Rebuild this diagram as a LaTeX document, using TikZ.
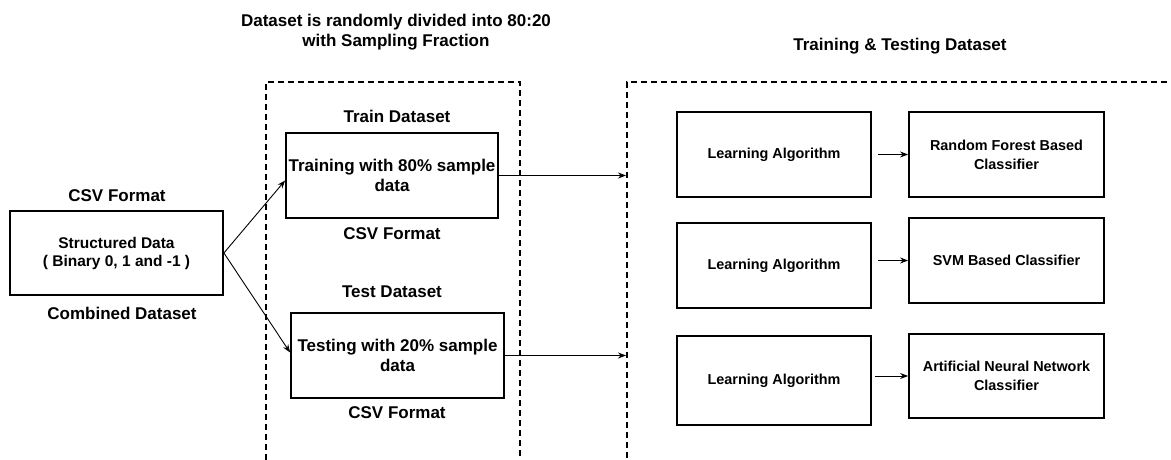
\documentclass[tikz,border=0pt]{standalone}
\usepackage{fontspec}
\setmainfont{Liberation Sans}
\usepackage{tikz}
\usetikzlibrary{arrows.meta,positioning,calc}

\tikzset{
  txt/.style={font=\fontsize{17}{20}\selectfont\bfseries},
  smalltxt/.style={font=\fontsize{14.4}{19}\selectfont\bfseries},
  box/.style={txt,draw,line width=1.8pt,minimum width=#1,minimum height=85pt,
              inner sep=2pt,align=center},
  box/.default=194pt,
  frame/.style={draw,dashed,dash pattern=on 6pt off 4pt,line width=1.8pt,
                anchor=north west,inner sep=0pt},
  lbl/.style={txt,align=center,inner sep=0pt},
  arr/.style={->,line width=0.9pt}
}

\begin{document}
\begin{tikzpicture}[x=1pt,y=-1pt,>={Stealth[length=8pt,width=6pt]}]
  \useasboundingbox (0,0) rectangle (1171,460);

  % dashed frames
  \node[frame,minimum width=254pt,minimum height=420pt] (split) at (265,81) {};
  \node[frame,minimum width=600pt,minimum height=420pt] (tt) at (626,81) {};

  \node[lbl] (title1) at (396,32) {Dataset is randomly divided into 80:20\\with Sampling Fraction};
  \node[lbl] (title2) at (900,46) {Training \& Testing Dataset};

  % combined data
  \node[box=213pt,minimum height=84pt,font=\fontsize{15.5}{18}\selectfont\bfseries] (data) at (116.5,253)
    {Structured Data\\( Binary 0, 1 and -1 )};
  \node[lbl] (datatop) at (117,196) {CSV Format};
  \node[lbl] (databot) at (122,313) {Combined Dataset};

  % split
  \node[box=212pt] (train) at (392,175.5) {Training with 80\% sample\\data};
  \node[lbl] (traintop) at (397,116) {Train Dataset};
  \node[lbl] (trainbot) at (392,234) {CSV Format};

  \node[box=213pt] (test) at (397.5,355.5) {Testing with 20\% sample\\data};
  \node[lbl] (testtop) at (392,292) {Test Dataset};
  \node[lbl] (testbot) at (397,413) {CSV Format};

  \draw[arr] (data.east) -- ($(train.west)+(0,5)$);
  \draw[arr] (data.east) -- ($(test.west)+(0,-3)$);
  \draw[arr] (train.east) -- (train.east -| tt.west);
  \draw[arr] (test.east) -- (test.east -| tt.west);

  % learning algorithms and classifiers
  \node[box,smalltxt] (la1) at (774,154.5) {Learning Algorithm};
  \node[box,smalltxt] (la2) at (774,265.5) {Learning Algorithm};
  \node[box,smalltxt,minimum height=89pt] (la3) at (774,380.5) {Learning Algorithm};

  \node[box=195pt,smalltxt] (rf) at (1006.5,154.5) {Random Forest Based\\Classifier};
  \node[box=195pt,smalltxt] (svm) at (1006.5,260.5) {SVM Based Classifier};
  \node[box=195pt,smalltxt,minimum height=84pt] (ann) at (1006.5,376) {Artificial Neural Network\\Classifier};

  \draw[arr,shorten <=6pt] (la1.east) -- (rf.west);
  \draw[arr,shorten <=6pt] (la2.east |- svm.west) -- (svm.west);
  \draw[arr,shorten <=3pt] (la3.east |- ann.west) -- (ann.west);
\end{tikzpicture}
\end{document}
